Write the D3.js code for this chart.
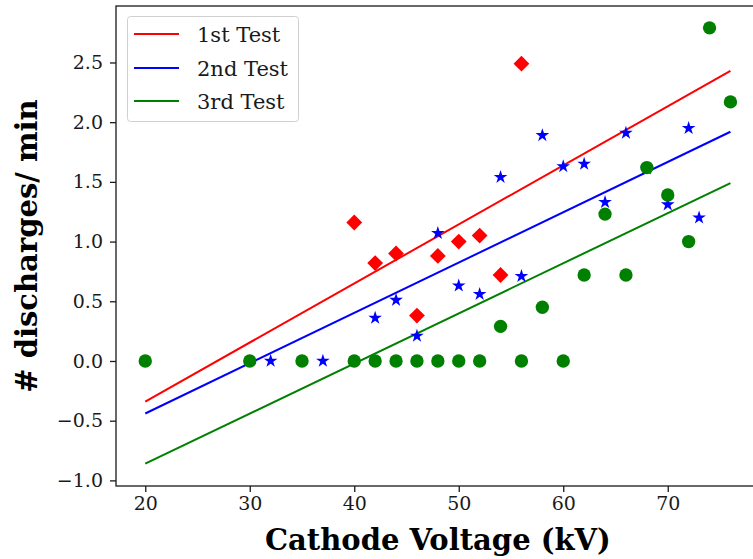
<!DOCTYPE html>
<html><head><meta charset="utf-8">
<script src="https://cdn.jsdelivr.net/npm/d3@7"></script>
<style>body{margin:0;background:#fff}svg{display:block}</style>
</head><body>
<script>
// Data
const test1X = [40, 42, 44, 46, 48, 50, 52, 54, 56];
const test1Y = [1.16, 0.82, 0.90, 0.38, 0.88, 1.00, 1.05, 0.72, 2.49];
const test2X = [32, 37, 42, 44, 46, 48, 50, 52, 54, 56, 58, 60, 62, 64, 66, 68, 70, 72, 73];
const test2Y = [0, 0, 0.36, 0.51, 0.21, 1.07, 0.63, 0.56, 1.54, 0.71, 1.89, 1.63, 1.65, 1.33, 1.91, 1.61, 1.31, 1.95, 1.20];
const test3X = [20, 30, 35, 40, 42, 44, 46, 48, 50, 52, 54, 56, 58, 60, 62, 64, 66, 68, 70, 72, 74, 76];
const test3Y = [0, 0, 0, 0, 0, 0, 0, 0, 0, 0, 0.29, 0, 0.45, 0, 0.72, 1.23, 0.72, 1.62, 1.39, 1.00, 2.79, 2.17];
const fitX = [20, 76];
const fit1Y = [-0.34, 2.43];
const fit2Y = [-0.44, 1.92];
const fit3Y = [-0.86, 1.49];
const seriesNames = ["1st Test", "2nd Test", "3rd Test"];
const seriesColors = ["#ff0000", "#0000ff", "#008000"];
const xTicks = [20, 30, 40, 50, 60, 70];
const yTicks = [-1.0, -0.5, 0.0, 0.5, 1.0, 1.5, 2.0, 2.5];

const W = 753, H = 559;
const L = 116, R = 759.7, T = 6, B = 486;
const svg = d3.select("body").append("svg").attr("width", W).attr("height", H);
const x = d3.scaleLinear().domain([17.2, 78.8]).range([L, R]);
const y = d3.scaleLinear().domain([-1.047, 2.973]).range([B, T]);
const font = "'DejaVu Serif', serif";
const ink = "#1a1a1a";

// fit lines
const fits = [fit1Y, fit2Y, fit3Y];
const line = d3.line().x(d => x(d[0])).y(d => y(d[1]));
fits.forEach((fy, i) => {
  svg.append("path").attr("d", line(fitX.map((v, j) => [v, fy[j]])))
    .attr("fill", "none").attr("stroke", seriesColors[i]).attr("stroke-width", 2);
});

// scatters
const series = [
  {xs: test1X, ys: test1Y, sym: d3.symbolSquare, size: 125, rot: 45},
  {xs: test2X, ys: test2Y, sym: d3.symbolStar, size: 58, rot: 0},
  {xs: test3X, ys: test3Y, sym: d3.symbolCircle, size: 140, rot: 0}
];
series.forEach((s, i) => {
  const g = svg.append("g");
  s.xs.forEach((v, j) => {
    g.append("path").attr("d", d3.symbol().type(s.sym).size(s.size)())
      .attr("transform", `translate(${x(v)},${y(s.ys[j])}) rotate(${s.rot})`)
      .attr("fill", seriesColors[i]);
  });
});

// axes
const xAxis = svg.append("g").attr("transform", `translate(0,${B})`)
  .call(d3.axisBottom(x).tickValues(xTicks).tickSize(6).tickPadding(5).tickFormat(d3.format("d")));
const yAxis = svg.append("g").attr("transform", `translate(${L},0)`)
  .call(d3.axisLeft(y).tickValues(yTicks).tickSize(6).tickPadding(7)
    .tickFormat(d => d < 0 ? "\u2212" + d3.format(".1f")(-d) : d3.format(".1f")(d)));
[xAxis, yAxis].forEach(a => {
  a.select(".domain").remove();
  a.selectAll("line").attr("stroke", ink).attr("stroke-width", 1.3);
  a.selectAll("text").attr("font-family", font).attr("font-size", 19).attr("fill", ink);
});
// spines
svg.append("rect").attr("x", L).attr("y", T).attr("width", R - L).attr("height", B - T)
  .attr("fill", "none").attr("stroke", ink).attr("stroke-width", 1.3);

// axis labels
svg.append("text").attr("x", (L + R) / 2).attr("y", 550).attr("text-anchor", "middle")
  .attr("font-family", font).attr("font-weight", "bold").attr("font-size", 29).attr("fill", "#000")
  .text("Cathode Voltage (kV)");
svg.append("text").attr("transform", `translate(37,${(T + B) / 2}) rotate(-90)`)
  .attr("text-anchor", "middle")
  .attr("font-family", font).attr("font-weight", "bold").attr("font-size", 29).attr("fill", "#000")
  .text("# discharges/ min");

// legend
const lg = svg.append("g");
lg.append("rect").attr("x", 127.5).attr("y", 16.5).attr("width", 171).attr("height", 105)
  .attr("rx", 3).attr("fill", "#fff").attr("fill-opacity", 0.8).attr("stroke", "#d0d0d0").attr("stroke-width", 1);
const rowsY = [34, 68, 101];
seriesNames.forEach((n, i) => {
  lg.append("line").attr("x1", 134).attr("x2", 179).attr("y1", rowsY[i]).attr("y2", rowsY[i])
    .attr("stroke", seriesColors[i]).attr("stroke-width", 2);
  lg.append("text").attr("x", 197).attr("y", rowsY[i]).attr("dy", "0.36em")
    .attr("font-family", font).attr("font-size", 21).attr("fill", ink).text(n);
});
</script>
</body></html>
